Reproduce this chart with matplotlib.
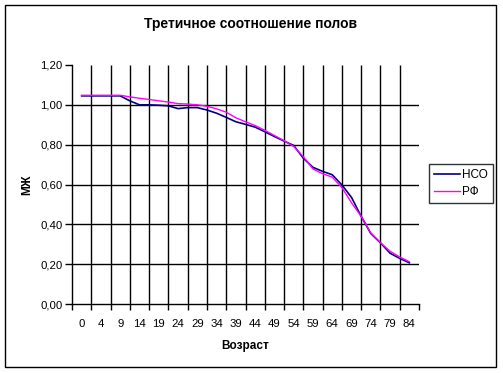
import matplotlib

matplotlib.use("Agg")
import matplotlib.pyplot as plt
import numpy as np
from matplotlib.patches import Rectangle

# category labels on the x axis (age)
ages = ["0", "4", "9", "14", "19", "24", "29", "34", "39", "44",
        "49", "54", "59", "64", "69", "74", "79", "84"]

# values every half category (0, 0.5, 1, ... 17)
nso = [1.045, 1.045, 1.045, 1.045, 1.045, 1.020, 1.000, 1.000, 0.998, 0.995,
       0.981, 0.986, 0.986, 0.974, 0.958, 0.937, 0.915, 0.902, 0.888, 0.865,
       0.841, 0.818, 0.796, 0.732, 0.686, 0.666, 0.649, 0.598, 0.535, 0.440,
       0.354, 0.307, 0.255, 0.229, 0.207]
rf = [1.048, 1.048, 1.048, 1.048, 1.048, 1.040, 1.033, 1.027, 1.020, 1.014,
      1.006, 1.004, 1.000, 0.993, 0.980, 0.963, 0.935, 0.915, 0.896, 0.872,
      0.846, 0.820, 0.791, 0.740, 0.678, 0.654, 0.637, 0.585, 0.508, 0.440,
      0.357, 0.308, 0.265, 0.236, 0.212]

FONT = "Liberation Sans"
W, H = 503, 373

fig = plt.figure(figsize=(W / 100, H / 100), dpi=100)
fig.patches.append(Rectangle((5 / W, 6 / H), 491 / W, 362 / H, transform=fig.transFigure,
                             fill=False, ec="black", lw=1.0))

ax = fig.add_axes([72 / W, (H - 304) / H, 347 / W, (304 - 65) / H])
n = len(ages)
x = np.arange(len(nso)) * 0.5

# grid (Excel style: interior verticals, horizontals below the top)
ax.vlines(np.arange(0.5, n - 1, 1.0), 0, 1.2, color="black", lw=1.0, zorder=1)
ax.hlines(np.arange(0.2, 1.01, 0.2), -0.5, n - 0.5, color="black", lw=1.0, zorder=1)

ax.plot(x, nso, color="#000080", lw=1.2, label="НСО", zorder=3)
ax.plot(x, rf, color="#FF00FF", lw=1.0, label="РФ", zorder=4)

ax.set_xlim(-0.5, n - 0.5)
ax.set_ylim(0, 1.2)
ax.set_xticks(range(n))
ax.set_xticklabels(ages, fontsize=8.2, family=FONT)
ax.set_xticks(np.arange(-0.5, n, 1.0), minor=True)
ax.tick_params(axis="x", which="major", length=0, pad=11)
ax.tick_params(axis="x", which="minor", length=4, width=1, direction="out")
yt = np.arange(0, 1.21, 0.2)
ax.set_yticks(yt)
ax.set_yticklabels([f"{v:.2f}".replace(".", ",") for v in yt], fontsize=8.2, family=FONT)
ax.tick_params(axis="y", length=5, width=1, direction="out", pad=2)

for s in ("top", "right"):
    ax.spines[s].set_visible(False)
for s in ("left", "bottom"):
    ax.spines[s].set_linewidth(1.0)

ax.set_xlabel("Возраст", fontsize=8.5, fontweight="bold", family=FONT, labelpad=8)
ax.set_ylabel("МЖ", fontsize=8.5, fontweight="bold", family=FONT, labelpad=5)
fig.text(251 / W, 1 - 24 / H, "Третичное соотношение полов", ha="center", va="center",
         fontsize=10, fontweight="bold", family=FONT)

leg = ax.legend(loc="center left", bbox_to_anchor=(429 / W, 1 - 183.5 / H),
                bbox_transform=fig.transFigure, frameon=True, fancybox=False,
                edgecolor="black", prop={"family": FONT, "size": 8.5},
                handlelength=2.2, handletextpad=0.2, borderpad=0.4, labelspacing=0.45,
                borderaxespad=0)
leg.get_frame().set_linewidth(1.0)

fig.savefig("out.png", dpi=100)
